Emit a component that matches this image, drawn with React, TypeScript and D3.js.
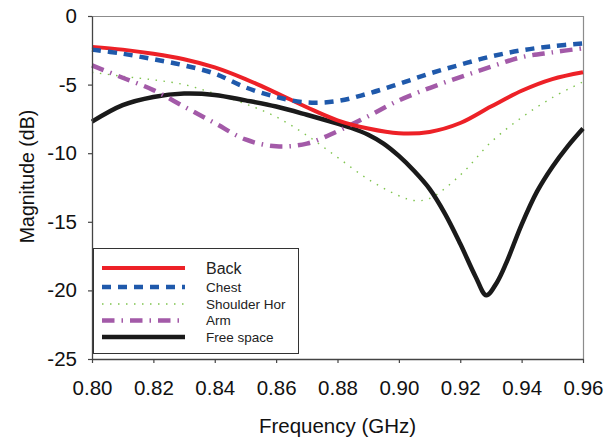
import React, { useEffect, useRef } from 'react';
import * as d3 from 'd3';

// frequency points (GHz)
const freqs = [0.80, 0.81, 0.82, 0.83, 0.84, 0.85, 0.86, 0.87, 0.88, 0.89, 0.90, 0.91, 0.92, 0.93, 0.94, 0.95, 0.96];
const shoulderFreqs = [0.80, 0.81, 0.82, 0.83, 0.84, 0.85, 0.86, 0.87, 0.88, 0.89, 0.90, 0.905, 0.91, 0.92, 0.93, 0.94, 0.95, 0.96];
const freeFreqs = [0.80, 0.81, 0.82, 0.83, 0.84, 0.85, 0.86, 0.87, 0.88, 0.885, 0.89, 0.895, 0.90, 0.905, 0.91, 0.915, 0.92, 0.925, 0.9285, 0.932, 0.935, 0.94, 0.945, 0.95, 0.955, 0.96];

const back = [-2.25, -2.45, -2.75, -3.15, -3.75, -4.6, -5.6, -6.65, -7.6, -8.2, -8.55, -8.45, -7.8, -6.6, -5.45, -4.6, -4.1];
const chest = [-2.45, -2.75, -3.15, -3.6, -4.2, -5.2, -5.9, -6.3, -6.2, -5.65, -4.95, -4.2, -3.55, -2.95, -2.5, -2.2, -2.0];
const shoulderHor = [-4.1, -4.4, -4.65, -5.0, -5.65, -6.4, -7.35, -8.7, -10.3, -11.9, -13.1, -13.45, -13.3, -11.6, -9.2, -7.4, -5.95, -4.8];
const arm = [-3.6, -4.5, -5.4, -6.6, -7.8, -9.0, -9.5, -9.3, -8.4, -7.3, -6.15, -5.25, -4.45, -3.7, -3.0, -2.65, -2.35];
const freeSpace = [-7.7, -6.5, -5.9, -5.65, -5.75, -6.15, -6.6, -7.2, -7.85, -8.2, -8.65, -9.3, -10.2, -11.3, -12.6, -14.4, -16.6, -19.0, -20.35, -19.4, -18.0, -15.2, -12.8, -11.0, -9.5, -8.2];

const xTicks = [0.80, 0.82, 0.84, 0.86, 0.88, 0.90, 0.92, 0.94, 0.96];
const yTicks = [0, -5, -10, -15, -20, -25];

const seriesNames = ['Back', 'Chest', 'Shoulder Hor', 'Arm', 'Free space'];

const FONT = '"Liberation Sans", Arial, Helvetica, sans-serif';

export default function App() {
  const svgRef = useRef<SVGSVGElement>(null);

  useEffect(() => {
    const svg = d3.select(svgRef.current);
    svg.selectAll('*').remove();

    const width = 614, height = 439;
    const margin = { top: 16, right: 31, bottom: 80, left: 92 };
    const innerW = width - margin.left - margin.right;
    const innerH = height - margin.top - margin.bottom;

    const x = d3.scaleLinear().domain([0.80, 0.96]).range([0, innerW]);
    const y = d3.scaleLinear().domain([-25, 0]).range([innerH, 0]);

    const g = svg.append('g').attr('transform', `translate(${margin.left},${margin.top})`);

    // top / right frame
    g.append('path')
      .attr('d', `M0,0.5H${innerW + 0.5}V${innerH}`)
      .attr('fill', 'none')
      .attr('stroke', '#8c8c8c')
      .attr('stroke-width', 1.2);

    const series = [
      { name: seriesNames[0], xs: freqs, ys: back, color: '#ed2127', width: 4, dash: null },
      { name: seriesNames[1], xs: freqs, ys: chest, color: '#1f59ab', width: 4.5, dash: '9,7' },
      { name: seriesNames[2], xs: shoulderFreqs, ys: shoulderHor, color: '#7fc44f', width: 1.4, dash: '1.5,6.5' },
      { name: seriesNames[3], xs: freqs, ys: arm, color: '#a35aa8', width: 4.5, dash: '12.5,7,1.5,7' },
      { name: seriesNames[4], xs: freeFreqs, ys: freeSpace, color: '#1a1a1a', width: 4.5, dash: null },
    ];

    const line = d3.line<[number, number]>()
      .x(d => x(d[0]))
      .y(d => y(d[1]))
      .curve(d3.curveCatmullRom.alpha(0.5));

    // draw order: back-most first
    const order = [2, 4, 3, 0, 1];
    order.forEach(i => {
      const s = series[i];
      const pts = s.xs.map((f, j) => [f, s.ys[j]] as [number, number]);
      g.append('path')
        .attr('d', line(pts))
        .attr('fill', 'none')
        .attr('stroke', s.color)
        .attr('stroke-width', s.width)
        .attr('stroke-dasharray', s.dash)
        .attr('stroke-linejoin', 'round');
    });

    // axes
    const xAxis = g.append('g')
      .attr('transform', `translate(0,${innerH})`)
      .call(d3.axisBottom(x).tickValues(xTicks).tickSize(4).tickSizeOuter(0).tickPadding(17).tickFormat(d3.format('.2f')));
    const yAxis = g.append('g')
      .call(d3.axisLeft(y).tickValues(yTicks).tickSize(4).tickSizeOuter(0).tickPadding(11).tickFormat(d => String(d)));

    [xAxis, yAxis].forEach(ax => {
      ax.select('.domain').attr('stroke', '#444').attr('stroke-width', 1.3);
      ax.selectAll('.tick line').attr('stroke', '#444').attr('stroke-width', 1.2);
      ax.selectAll('.tick text')
        .attr('fill', '#111')
        .style('font-family', FONT)
        .style('font-size', '20.5px');
    });

    // axis titles
    svg.append('text')
      .attr('x', margin.left + innerW / 2)
      .attr('y', 433)
      .attr('text-anchor', 'middle')
      .style('font-family', FONT)
      .style('font-size', '20.5px')
      .attr('fill', '#111')
      .text('Frequency (GHz)');

    svg.append('text')
      .attr('transform', `translate(34,${margin.top + innerH / 2 - 11}) rotate(-90)`)
      .attr('text-anchor', 'middle')
      .style('font-family', FONT)
      .style('font-size', '19.5px')
      .attr('fill', '#111')
      .text('Magnitude (dB)');

    // legend
    const lg = svg.append('g');
    lg.append('rect')
      .attr('x', 93.5).attr('y', 248.5)
      .attr('width', 205).attr('height', 105)
      .attr('fill', '#fff')
      .attr('stroke', '#333')
      .attr('stroke-width', 1);

    const rowsY = [268, 287, 304, 320.5, 337];
    series.forEach((s, i) => {
      lg.append('line')
        .attr('x1', 102).attr('x2', 185)
        .attr('y1', rowsY[i]).attr('y2', rowsY[i])
        .attr('stroke', s.color)
        .attr('stroke-width', s.width)
        .attr('stroke-dasharray', s.dash);
      lg.append('text')
        .attr('x', 206)
        .attr('y', rowsY[i] + (i === 0 ? 5.5 : 4.5))
        .style('font-family', FONT)
        .style('font-size', i === 0 ? '16px' : '13.5px')
        .attr('fill', '#222')
        .text(s.name);
    });
  }, []);

  return (
    <svg ref={svgRef} width={614} height={439}
      style={{ position: 'absolute', left: 0, top: 0, background: '#fff' }} />
  );
}
